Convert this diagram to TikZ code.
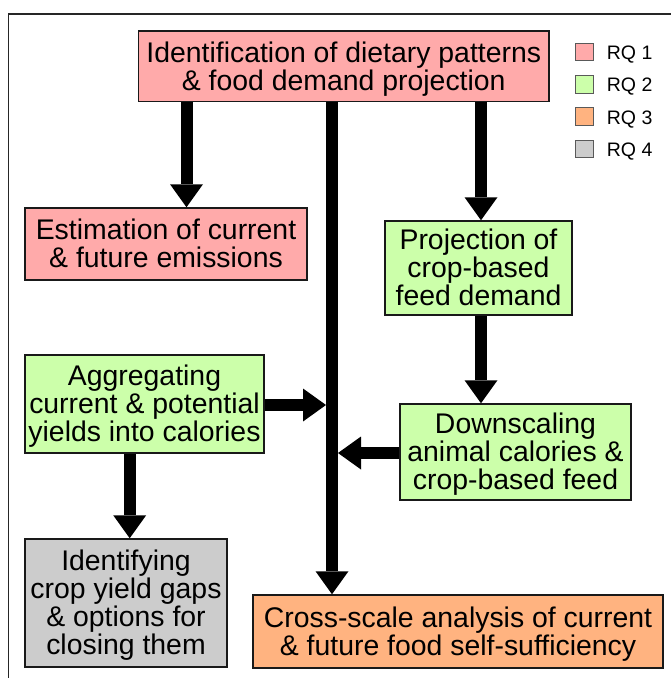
\documentclass[tikz,border=0pt]{standalone}
\usepackage{fontspec}
\setmainfont{Liberation Sans}
\usetikzlibrary{arrows.meta}
\definecolor{rqpink}{RGB}{255,170,170}
\definecolor{rqgreen}{RGB}{204,255,170}
\definecolor{rqorange}{RGB}{255,179,128}
\definecolor{rqgray}{RGB}{204,204,204}
\begin{document}
\begin{tikzpicture}[x=1pt,y=-1pt,
  box/.style={draw=black!90, line width=1.5pt, align=center, inner sep=0pt,
    text depth=5.9pt, font=\fontsize{28.4}{28}\selectfont},
  twolines/.style={text height=53.3pt},
  threelines/.style={text height=81.3pt},
  fourlines/.style={text height=109.3pt},
  bigarrow/.style={line width=12pt, -{Triangle[width=33pt,length=23pt,line width=0pt]}},
  legsq/.style={draw=black!65, line width=1pt, minimum size=17.5pt, inner sep=0pt},
  legtxt/.style={anchor=base west, inner sep=0pt, font=\fontsize{19.5}{20}\selectfont}]
\useasboundingbox (0,0) rectangle (670,678);
\draw[line width=1.5pt, black!85] (8.7,14) rectangle (690,700);

\node[box, twolines, fill=rqpink, minimum width=410.5pt, minimum height=70.7pt] (top) at (343.75,66.35)
  {Identification of dietary patterns\\ \& food demand projection};
\node[box, twolines, fill=rqpink, minimum width=282pt, minimum height=72pt] (est) at (166,244)
  {Estimation of current\\ \& future emissions};
\node[box, threelines, fill=rqgreen, minimum width=187pt, minimum height=94pt] (proj) at (478.5,268)
  {Projection of\\ crop-based\\ feed demand};
\node[box, threelines, fill=rqgreen, minimum width=239pt, minimum height=98pt] (agg) at (144.5,404)
  {Aggregating\\ current \& potential\\ yields into calories};
\node[box, threelines, fill=rqgreen, minimum width=231pt, minimum height=96pt] (down) at (515.5,452)
  {Downscaling\\ animal calories \&\\ crop-based feed};
\node[box, fourlines, fill=rqgray, minimum width=202pt, minimum height=128pt] (ident) at (126,603)
  {Identifying\\ crop yield gaps\\ \& options for\\ closing them};
\node[box, twolines, fill=rqorange, minimum width=410pt, minimum height=73pt] (cross) at (458,631.5)
  {Cross-scale analysis of current\\ \& future food self-sufficiency};

\coordinate (tx) at (332,0);
\coordinate (lx) at (186.5,0);
\coordinate (rx) at (481,0);
\coordinate (ax) at (129.7,0);
\coordinate (tL) at (326,405);
\coordinate (tR) at (338,453);

\draw[bigarrow] (top.south -| tx) -- (cross.north -| tx);
\draw[bigarrow] (top.south -| lx) -- (est.north -| lx);
\draw[bigarrow] (top.south -| rx) -- (proj.north -| rx);
\draw[bigarrow] (proj.south -| rx) -- (down.north -| rx);
\draw[bigarrow] (agg.south -| ax) -- (ident.north -| ax);
\draw[bigarrow] (agg.east |- tL) -- (tL);
\draw[bigarrow] (down.west |- tR) -- (tR);

\node[legsq, fill=rqpink] (l1) at (584.5,52) {};
\node[legsq, fill=rqgreen] (l2) at (584.5,84.3) {};
\node[legsq, fill=rqorange] (l3) at (584.5,116.7) {};
\node[legsq, fill=rqgray] (l4) at (584.5,149) {};
\node[legtxt] (t1) at (606.7,59.3) {RQ 1};
\node[legtxt] (t2) at (606.7,91.6) {RQ 2};
\node[legtxt] (t3) at (606.7,124) {RQ 3};
\node[legtxt] (t4) at (606.7,156.3) {RQ 4};
\end{tikzpicture}
\end{document}
